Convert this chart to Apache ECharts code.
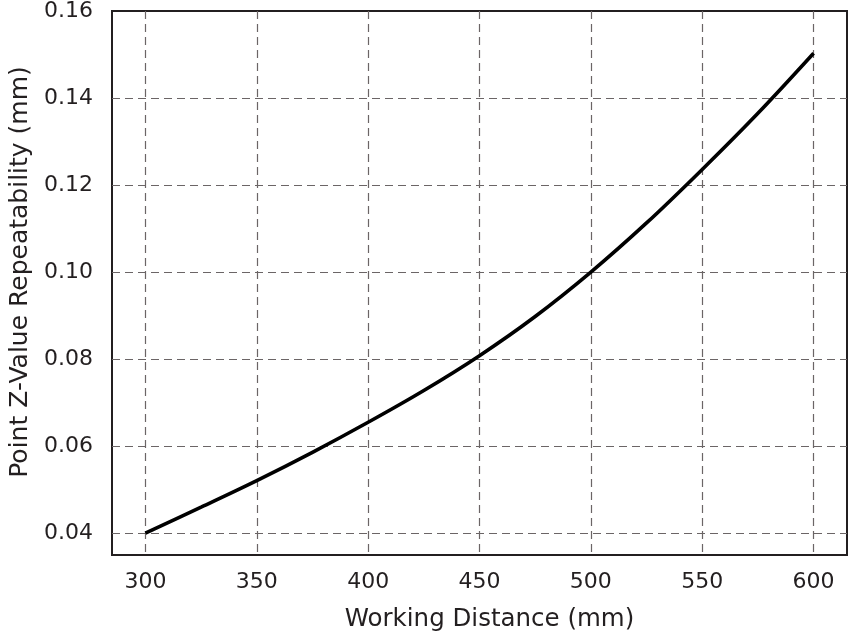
<!DOCTYPE html>
<html>
<head>
<meta charset="utf-8">
<script src="https://cdn.jsdelivr.net/npm/echarts@6/dist/echarts.min.js"></script>
<style>html,body{margin:0;padding:0;background:#fff}#c{width:850px;height:637px}</style>
</head>
<body>
<div id="c"></div>
<script>
const distances = [300, 325, 350, 375, 400, 425, 450, 475, 500, 525, 550, 575, 600];
const repeatability = [0.0400, 0.0460, 0.0521, 0.0586, 0.0655, 0.0728, 0.0808, 0.0898, 0.1000, 0.1113, 0.1236, 0.1365, 0.1503];
const xName = 'Working Distance (mm)';
const yName = 'Point Z-Value Repeatability (mm)';

const textColor = '#231f20';
const font = 'DejaVu Sans';
const chart = echarts.init(document.getElementById('c'), null, {renderer: 'canvas'});
chart.setOption({
  animation: false,
  backgroundColor: '#fff',
  grid: {left: 109, right: 3, top: 11, bottom: 80, show: true, borderColor: textColor, borderWidth: 2, containLabel: false},
  xAxis: {
    type: 'value', min: 285, max: 615, splitNumber: 6,
    name: xName, nameLocation: 'middle', nameGap: 52,
    nameTextStyle: {fontFamily: font, fontSize: 24.5, color: textColor, padding: [0, 0, 0, 20]},
    axisLine: {show: false}, axisTick: {show: false},
    axisLabel: {fontFamily: font, fontSize: 22, color: textColor, margin: 16, showMinLabel: false, showMaxLabel: false},
    splitLine: {show: true, showMinLine: false, showMaxLine: false, lineStyle: {color: '#6b6566', type: [8, 5], width: 1.2}}
  },
  yAxis: {
    type: 'value', min: 0.035, max: 0.16, splitNumber: 6,
    name: yName, nameLocation: 'middle', nameGap: 79,
    nameTextStyle: {fontFamily: font, fontSize: 25, color: textColor, padding: [0, 0, 0, 22]},
    axisLine: {show: false}, axisTick: {show: false},
    axisLabel: {fontFamily: font, fontSize: 22, color: textColor, margin: 19, showMinLabel: false,
      formatter: v => v.toFixed(2)},
    splitLine: {show: true, showMinLine: false, showMaxLine: false, lineStyle: {color: '#6b6566', type: [8, 5], width: 1.2}}
  },
  series: [{
    type: 'line', data: distances.map((d, i) => [d, repeatability[i]]),
    smooth: 0.35, showSymbol: false, symbol: 'none',
    lineStyle: {color: '#000', width: 3.6}
  }]
});
</script>
</body>
</html>
